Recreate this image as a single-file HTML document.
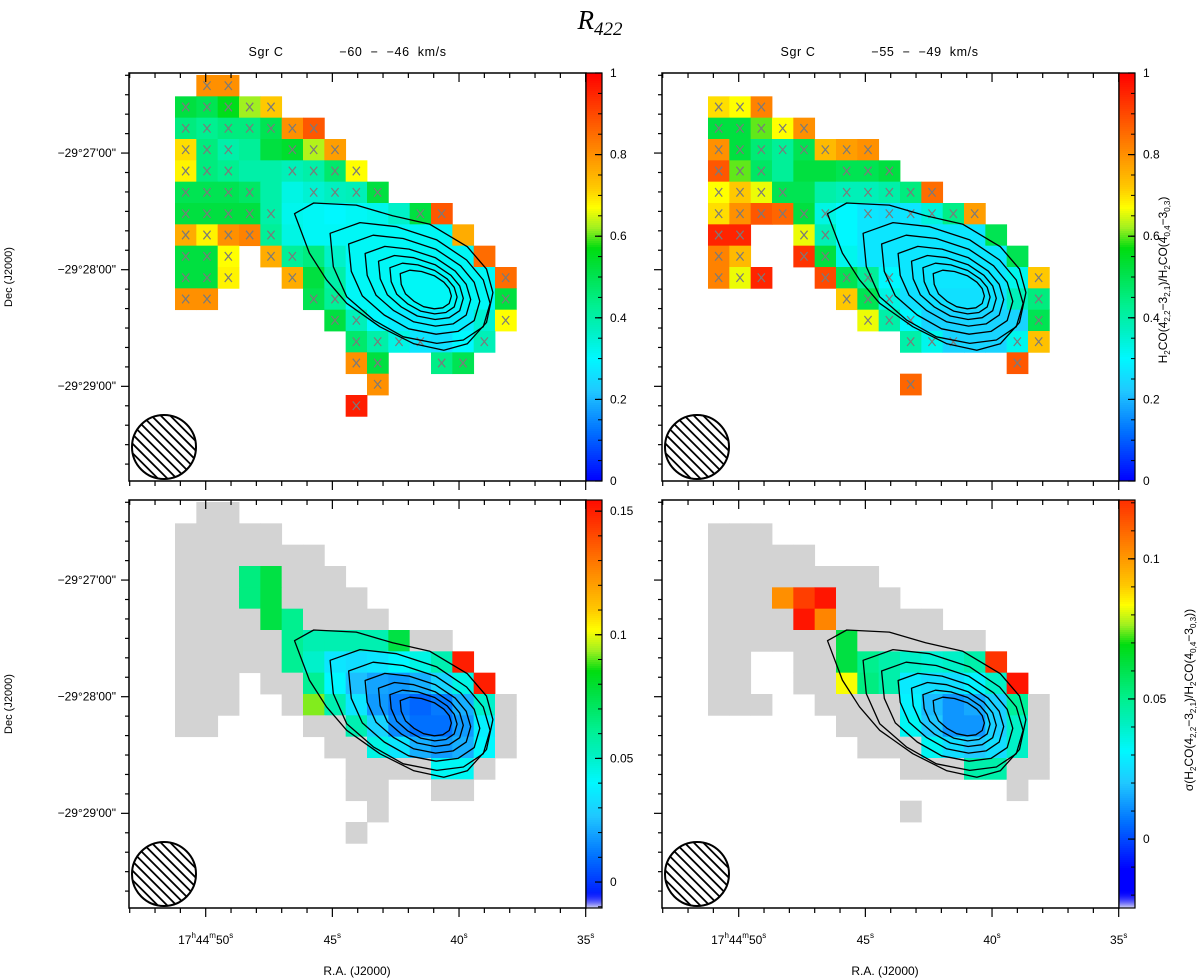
<!DOCTYPE html>
<html><head><meta charset="utf-8">
<style>
html,body{margin:0;padding:0;background:#fff;}
svg{display:block;font-family:"Liberation Sans",sans-serif;}
</style></head>
<body>
<svg id="fig" width="1200" height="979" viewBox="0 0 1200 979" xmlns="http://www.w3.org/2000/svg">
<rect width="1200" height="979" fill="#fff"/>
<text x="600" y="29" text-anchor="middle" font-family="Liberation Serif, serif" font-style="italic" font-size="27">R<tspan font-size="19" dy="6">422</tspan></text>
<g font-size="12.5" letter-spacing="0.6">
<text x="266" y="56" text-anchor="middle">Sgr C</text>
<text x="393" y="56" text-anchor="middle" xml:space="preserve">−60  −  −46  km/s</text>
</g>
<g font-size="12.5" letter-spacing="0.6">
<text x="798" y="56" text-anchor="middle">Sgr C</text>
<text x="925" y="56" text-anchor="middle" xml:space="preserve">−55  −  −49  km/s</text>
</g>
<text transform="translate(12,277) rotate(-90)" text-anchor="middle" font-size="11">Dec (J2000)</text>
<text transform="translate(12,704) rotate(-90)" text-anchor="middle" font-size="11">Dec (J2000)</text>
<text x="357" y="975" text-anchor="middle" font-size="12">R.A. (J2000)</text>
<text x="885" y="975" text-anchor="middle" font-size="12">R.A. (J2000)</text>
<text transform="translate(1167,280) rotate(-90)" text-anchor="middle" font-size="12">H<tspan font-size="8" dy="3">2</tspan><tspan dy="-3">CO(4</tspan><tspan font-size="8" dy="3">2,2</tspan><tspan dy="-3">−3</tspan><tspan font-size="8" dy="3">2,1</tspan><tspan dy="-3">)/H</tspan><tspan font-size="8" dy="3">2</tspan><tspan dy="-3">CO(4</tspan><tspan font-size="8" dy="3">0,4</tspan><tspan dy="-3">−3</tspan><tspan font-size="8" dy="3">0,3</tspan><tspan dy="-3">)</tspan></text>
<text transform="translate(1193,700) rotate(-90)" text-anchor="middle" font-size="12">σ(H<tspan font-size="8" dy="3">2</tspan><tspan dy="-3">CO(4</tspan><tspan font-size="8" dy="3">2,2</tspan><tspan dy="-3">−3</tspan><tspan font-size="8" dy="3">2,1</tspan><tspan dy="-3">)/H</tspan><tspan font-size="8" dy="3">2</tspan><tspan dy="-3">CO(4</tspan><tspan font-size="8" dy="3">0,4</tspan><tspan dy="-3">−3</tspan><tspan font-size="8" dy="3">0,3</tspan><tspan dy="-3">))</tspan></text>
</svg>
<script>
const _ = null;
// Ratio maps (top panels), rows = Dec pixels (top->bottom), cols = RA pixels (left->right)
const tlRatio = [
[_,.80,.80,_,_,_,_,_,_,_,_,_,_,_,_,_],
[.52,.50,.56,.62,.72,_,_,_,_,_,_,_,_,_,_,_],
[.45,.43,.45,.45,.50,.80,.88,_,_,_,_,_,_,_,_,_],
[.70,.45,.40,.42,.52,.54,.63,.78,_,_,_,_,_,_,_,_],
[.68,.45,.43,.40,.40,.38,.40,.47,.67,_,_,_,_,_,_,_],
[.50,.50,.50,.48,.40,.33,.35,.37,.38,.52,_,_,_,_,_,_],
[.52,.52,.52,.52,.40,.32,.31,.30,.31,.32,.36,.52,.88,_,_,_],
[.76,.68,.80,.82,.42,.33,.31,.31,.31,.31,.31,.31,.31,.76,_,_],
[.52,.52,.67,_,.76,.42,.45,.36,.31,.31,.31,.31,.31,.31,.85,_],
[.52,.52,.68,_,_,.76,.52,.40,.31,.31,.31,.31,.31,.31,.31,.85],
[.80,.80,_,_,_,_,.50,.42,.31,.31,.31,.31,.31,.31,.31,.52],
[_,_,_,_,_,_,_,.52,.38,.30,.28,.28,.28,.28,.35,.67],
[_,_,_,_,_,_,_,_,.47,.40,.33,.27,.26,.30,.38,_],
[_,_,_,_,_,_,_,_,.80,.52,_,_,.44,.50,_,_],
[_,_,_,_,_,_,_,_,_,.80,_,_,_,_,_,_],
[_,_,_,_,_,_,_,_,.96,_,_,_,_,_,_,_]
];
const tlFlag = ["0110000000000000","1111100000000000","1111111000000000","1110011100000000",
"1110011110000000","1111001111000000","1111100000011000","1111100000000000","1110110000000000",
"1110010000000001","1100001100000001","0000000110000001","0000000011110010","0000000011001100",
"0000000001000000","0000000010000000"];
const trRatio = [
[_,_,_,_,_,_,_,_,_,_,_,_,_,_,_,_],
[.70,.67,.82,_,_,_,_,_,_,_,_,_,_,_,_,_],
[.52,.52,.60,.67,.80,_,_,_,_,_,_,_,_,_,_,_],
[.80,.52,.46,.42,.50,.74,.78,.80,_,_,_,_,_,_,_,_],
[.88,.60,.48,.42,.52,.52,.50,.50,.52,_,_,_,_,_,_,_],
[.67,.72,.66,.50,.50,.40,.38,.38,.40,.45,.85,_,_,_,_,_],
[.70,.80,.88,.86,.52,.33,.30,.27,.26,.27,.34,.44,.78,_,_,_],
[.95,.95,_,_,.66,.38,.30,.27,.27,.27,.27,.27,.27,.50,_,_],
[.82,.74,_,_,.93,.52,.32,.27,.27,.27,.27,.27,.27,.27,.50,_],
[.82,.66,.95,_,_,.90,.50,.42,.30,.27,.27,.27,.27,.27,.32,.72],
[_,_,_,_,_,_,.72,.50,.33,.26,.26,.26,.26,.26,.38,.45],
[_,_,_,_,_,_,_,.66,.40,.30,.24,.24,.24,.24,.24,.50],
[_,_,_,_,_,_,_,_,_,.40,.32,.24,.24,.24,.32,.73],
[_,_,_,_,_,_,_,_,_,_,_,_,_,_,.88,_],
[_,_,_,_,_,_,_,_,_,.86,_,_,_,_,_,_],
[_,_,_,_,_,_,_,_,_,_,_,_,_,_,_,_]
];
const trFlag = ["0000000000000000","1110000000000000","1111100000000000","1111111100000000",
"1110001110000000","1111001111100000","1111110111111000","1100110000000000","1100110000000000",
"1110011110000001","0000001110000001","0000000111000001","0000000001110011","0000000000000010",
"0000000001000000","0000000000000000"];
// Error maps (bottom panels); cells present in ratio map but null here are drawn grey
const blErr = [
[],[],[],
[_,_,_,.065,.076],
[_,_,_,.065,.076],
[_,_,_,_,.076,.062],
[_,_,_,_,_,.061,.055,.055,.055,.055,.076],
[_,_,_,_,_,.061,.050,.035,.033,.035,.040,.045,.055,.150],
[_,_,_,_,_,_,.061,.040,.025,.020,.018,.022,.030,.045,.150],
[_,_,_,_,_,_,.092,.055,.035,.018,.012,.008,.012,.022,.050],
[_,_,_,_,_,_,_,_,.055,.030,.015,.010,.010,.018,.038],
[_,_,_,_,_,_,_,_,_,.045,.035,.022,.018,.022,.040],
[_,_,_,_,_,_,_,_,_,_,_,_,.042,.042],
[],[],[]
];
const brErr = [
[],[],[],[],
[_,_,_,.102,.118,.126],
[_,_,_,_,.126,.104],
[_,_,_,_,_,_,.062],
[_,_,_,_,_,_,.062,.050,.045,.040,.038,.040,.045,.120],
[_,_,_,_,_,_,.083,.052,.045,.028,.025,.025,.030,.040,.126],
[_,_,_,_,_,_,_,_,_,.030,.018,.012,.015,.022,.048],
[_,_,_,_,_,_,_,_,_,.033,.020,.012,.012,.022,.040],
[_,_,_,_,_,_,_,_,_,_,.033,.025,.020,.025,.040],
[_,_,_,_,_,_,_,_,_,_,_,_,.045,.045],
[],[],[]
];
// Contours in pixel-grid units
const contourOuter = [[5.6,6.5],[6.5,6.0],[8.5,6.1],[10.2,6.6],[11.95,7.0],[13.7,8.05],[14.6,9.1],[14.9,10.2],[14.6,11.6],[13.7,12.6],[12.6,12.9],[11.2,12.6],[9.6,11.8],[8.05,10.7],[7.1,9.6],[6.3,8.35]];
const contourSecond = [[7.27,7.42],[8.67,6.92],[10.39,7.11],[12.27,7.73],[13.67,8.67],[14.45,9.61],[14.77,10.7],[14.45,11.8],[13.52,12.42],[12.27,12.58],[10.7,12.27],[9.3,11.48],[8.05,10.39],[7.42,8.98]];
const contourScales = [0.82,0.66,0.53,0.42,0.32];
const contourCenter = [12.1,10.2];
const ratioTicks = [0,0.2,0.4,0.6,0.8,1];
const ratioTickLabels = ["0","0.2","0.4","0.6","0.8","1"];
const blTicks = [0,0.05,0.1,0.15];
const blTickLabels = ["0","0.05","0.1","0.15"];
const brTicks = [0,0.05,0.1];
const brTickLabels = ["0","0.05","0.1"];
const decTickLabels = ["−29°27'00\"","−29°28'00\"","−29°29'00\""];

const NS = "http://www.w3.org/2000/svg";
const svg = document.getElementById('fig');
function mk(tag, at, parent){const e=document.createElementNS(NS,tag);for(const k in at)e.setAttribute(k,at[k]);(parent||svg).appendChild(e);return e;}

const stops=[[0,[0,0,255]],[0.12,[0,112,255]],[0.22,[32,200,255]],[0.30,[0,248,255]],[0.37,[0,240,192]],[0.43,[0,240,144]],[0.52,[0,224,64]],[0.57,[0,221,16]],[0.62,[160,240,32]],[0.67,[255,255,0]],[0.72,[255,200,0]],[0.80,[255,144,0]],[0.89,[255,80,0]],[1,[255,0,0]]];
function cmap(f){f=Math.max(0,Math.min(1,f));for(let i=1;i<stops.length;i++){if(f<=stops[i][0]){const a=stops[i-1],b=stops[i];const t=(f-a[0])/(b[0]-a[0]);const c=a[1].map((v,j)=>Math.round(v+(b[1][j]-v)*t));return `rgb(${c.join(',')})`;}}return 'rgb(255,0,0)';}

const CELL=64/3, W=457, H=408, BW=16;
const panels=[
 {id:'top-left',fx:129,fy:73,ratio:tlRatio,flag:tlFlag,err:null,cLo:0,cHi:1,aLo:0,aHi:1,ticks:ratioTicks,labels:ratioTickLabels,minor:0.05,xlab:false,ylab:true},
 {id:'top-right',fx:662,fy:73,ratio:trRatio,flag:trFlag,err:null,cLo:0,cHi:1,aLo:0,aHi:1,ticks:ratioTicks,labels:ratioTickLabels,minor:0.05,xlab:false,ylab:false},
 {id:'bottom-left',fx:129,fy:500,ratio:tlRatio,flag:tlFlag,err:blErr,cLo:-0.01,cHi:0.157,aLo:-0.0105,aHi:0.1545,ticks:blTicks,labels:blTickLabels,minor:0.01,xlab:true,ylab:true},
 {id:'bottom-right',fx:662,fy:500,ratio:trRatio,flag:trFlag,err:brErr,cLo:-0.011,cHi:0.13,aLo:-0.0246,aHi:0.121,ticks:brTicks,labels:brTickLabels,minor:0.01,xlab:true,ylab:false}
];

panels.forEach((p,pi)=>{
  const g=mk('g',{});
  
  
  const gx=c=>p.fx+46+c*CELL, gy=r=>p.fy+2+r*CELL;
  p.ratio.forEach((row,r)=>row.forEach((v,c)=>{
    if(v===null) return;
    let fill;
    if(p.err){const e=(p.err[r]||[])[c]; fill=(e===null||e===undefined)?'#d3d3d3':cmap((e-p.cLo)/(p.cHi-p.cLo));}
    else fill=cmap((v-p.cLo)/(p.cHi-p.cLo));
    const rc=mk('rect',{x:gx(c).toFixed(2),y:gy(r).toFixed(2),width:(CELL+0.4).toFixed(2),height:(CELL+0.4).toFixed(2),fill:fill},g);
    
    
    if(!p.err && p.flag[r][c]==='1'){
      const cx=gx(c)+CELL/2, cy=gy(r)+CELL/2, d=3.6;
      const xm=mk('path',{d:`M${cx-d},${cy-d*1.2}L${cx+d},${cy+d*1.2}M${cx+d},${cy-d*1.2}L${cx-d},${cy+d*1.2}`,stroke:'#7a7a7a','stroke-width':1.2,fill:'none'},g);
      
      
    }
  }));
  const toPts=pts=>pts.map(q=>`${gx(q[0]).toFixed(1)},${gy(q[1]).toFixed(1)}`).join(' ');
  const polys=[contourOuter,contourSecond].concat(contourScales.map(s=>contourSecond.map(q=>[contourCenter[0]+(q[0]-contourCenter[0])*s,contourCenter[1]+(q[1]-contourCenter[1])*s])));
  polys.forEach(pts=>{
    const pl=mk('polygon',{points:toPts(pts),fill:'none',stroke:'#000','stroke-width':1.3,'stroke-linejoin':'round'},g);
    
    
  });
  const bx=p.fx+35, by=p.fy+374, br=32;
  const cp=mk('clipPath',{id:'beamclip'+pi},g);
  mk('circle',{cx:bx,cy:by,r:br},cp);
  const hg=mk('g',{'clip-path':`url(#beamclip${pi})`},g);
  for(let k=-12;k<=12;k++){
    const o=k*4.7;
    mk('line',{x1:bx-50+o,y1:by-50-o,x2:bx+50+o,y2:by+50-o,stroke:'#000','stroke-width':1.8},hg);
  }
  const bc=mk('circle',{cx:bx,cy:by,r:br,fill:'none',stroke:'#000','stroke-width':2},g);
  
  
  const fr=mk('rect',{x:p.fx,y:p.fy,width:W,height:H,fill:'none',stroke:'#000','stroke-width':1.5},g);
  
  
  for(let k=0;k<19;k++){
    const x=p.fx+0.7+k*25.333; const major=(k%5===3);
    mk('line',{x1:x,y1:p.fy,x2:x,y2:p.fy+(major?9:5),stroke:'#000','stroke-width':1.2},g);
    mk('line',{x1:x,y1:p.fy+H,x2:x,y2:p.fy+H+(major?9:5),stroke:'#000','stroke-width':1.2},g);
  }
  for(let k=0;k<21;k++){
    const y=p.fy+2.3+k*19.44; if(y>p.fy+H) break; const major=(k%6===4);
    mk('line',{x1:p.fx-(major?8:4),y1:y,x2:p.fx,y2:y,stroke:'#000','stroke-width':1.2},g);
  }
  if(p.ylab){
    decTickLabels.forEach((lab,i)=>{
      const t=mk('text',{x:p.fx-13,y:p.fy+80+i*116.6+4,'text-anchor':'end','font-size':12},g);
      t.textContent=lab;
      
      
    });
  }
  if(p.xlab){
    const ly=944;
    const mx=[76.7,203.3,330,456.7];
    const t0=mk('text',{x:p.fx+mx[0],y:ly,'text-anchor':'middle','font-size':12},g);
    t0.innerHTML='17<tspan font-size="8" dy="-6">h</tspan><tspan dy="6">44</tspan><tspan font-size="8" dy="-6">m</tspan><tspan dy="6">50</tspan><tspan font-size="8" dy="-6">s</tspan>';
    
    
    ['45','40','35'].forEach((s,i)=>{
      const t=mk('text',{x:p.fx+mx[i+1],y:ly,'text-anchor':'middle','font-size':12},g);
      t.innerHTML=s+'<tspan font-size="8" dy="-6">s</tspan>';
      
      
    });
  }
  const cbx=p.fx+W, cg=mk('g',{},g);
  
  
  for(let y=0;y<H;y+=2){
    const val=p.aHi-(y+1)/H*(p.aHi-p.aLo);
    mk('rect',{x:cbx,y:p.fy+y,width:BW,height:2.3,fill:cmap((val-p.cLo)/(p.cHi-p.cLo))},cg);
  }
  if(p.err){
    const gid='lav'+pi;
    const lg=mk('linearGradient',{id:gid,x1:0,y1:0,x2:0,y2:1},cg);
    mk('stop',{offset:0,'stop-color':'#0000ff','stop-opacity':0},lg);
    mk('stop',{offset:1,'stop-color':'#d8d8f0','stop-opacity':1},lg);
    mk('rect',{x:cbx,y:p.fy+H-18,width:BW,height:18,fill:`url(#${gid})`},cg);
  }
  mk('rect',{x:cbx,y:p.fy,width:BW,height:H,fill:'none',stroke:'#000','stroke-width':1.2},cg);
  const yv=v=>p.fy+H*(p.aHi-v)/(p.aHi-p.aLo);
  for(let v=Math.ceil(p.aLo/p.minor)*p.minor; v<=p.aHi+1e-9; v+=p.minor){
    const y=yv(v); mk('line',{x1:cbx+BW-4,y1:y,x2:cbx+BW,y2:y,stroke:'#000','stroke-width':1},cg);
  }
  p.ticks.forEach((v,i)=>{
    const y=yv(v);
    mk('line',{x1:cbx+BW-7,y1:y,x2:cbx+BW,y2:y,stroke:'#000','stroke-width':1.2},cg);
    const t=mk('text',{x:cbx+BW+8,y:y+4,'font-size':12},cg);
    t.textContent=p.labels[i];
    
    
  });
});
</script>
</body></html>
